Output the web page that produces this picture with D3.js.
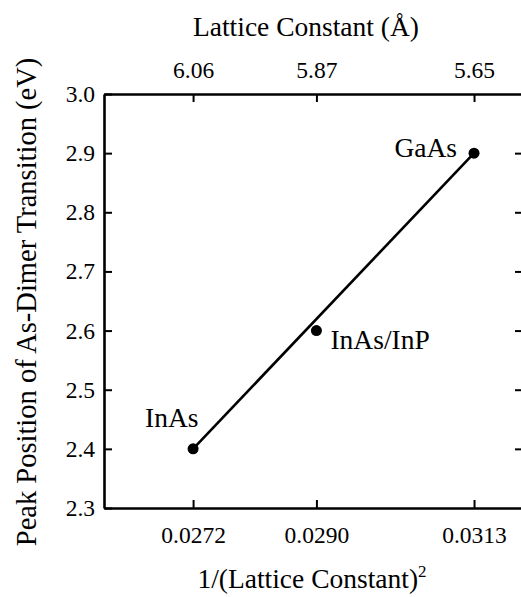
<!DOCTYPE html>
<html>
<head>
<meta charset="utf-8">
<script src="https://cdn.jsdelivr.net/npm/d3@7"></script>
<style>
  html, body { margin: 0; padding: 0; background: #fff; }
  svg { display: block; }
</style>
</head>
<body>
<svg id="chart" width="521" height="597"></svg>
<script>
// ---- data ----
const materials = ["InAs", "InAs/InP", "GaAs"];
const invLatticeSq = [0.0272, 0.0290, 0.0313];
const peakEV = [2.40, 2.60, 2.90];
const fitX = [0.0272, 0.0313];
const fitY = [2.40, 2.90];
const bottomTicks = [0.0272, 0.0290, 0.0313];
const bottomTickLabels = ["0.0272", "0.0290", "0.0313"];
const topTickLabels = ["6.06", "5.87", "5.65"];
const yTicks = [2.3, 2.4, 2.5, 2.6, 2.7, 2.8, 2.9, 3.0];
const xDomain = [0.0259, 0.0320];
const yDomain = [2.3, 3.0];

// ---- layout ----
const FONT = "Liberation Serif";
const svg = d3.select("#chart");
const mLeft = 104, mRight = 522, mTop = 94, mBottom = 508;
const x = d3.scaleLinear().domain(xDomain).range([mLeft, mRight]);
const y = d3.scaleLinear().domain(yDomain).range([mBottom, mTop]);

const tickFont = 23.5, titleFont = 27.5, labelFont = 27.5;

function styleAxis(g) {
  g.attr("font-family", null);
  g.select(".domain").attr("stroke", "#000").attr("stroke-width", 2.6);
  g.selectAll(".tick line").attr("stroke", "#000").attr("stroke-width", 2);
  g.selectAll(".tick text").attr("font-size", tickFont)
    .style("font-family", FONT).attr("fill", "#000");
}

// bottom axis
const gB = svg.append("g").attr("transform", `translate(0,${mBottom})`)
  .call(d3.axisBottom(x).tickValues(bottomTicks)
    .tickFormat((d, i) => bottomTickLabels[i]).tickSizeInner(-8).tickSizeOuter(0));
styleAxis(gB);
gB.selectAll(".tick text").attr("y", 35).attr("dy", null);

// top axis
const gT = svg.append("g").attr("transform", `translate(0,${mTop})`)
  .call(d3.axisTop(x).tickValues(bottomTicks)
    .tickFormat((d, i) => topTickLabels[i]).tickSizeInner(-8).tickSizeOuter(0).tickPadding(16));
styleAxis(gT);

// left axis
const gL = svg.append("g").attr("transform", `translate(${mLeft},0)`)
  .call(d3.axisLeft(y).tickValues(yTicks).tickFormat(d3.format(".1f"))
    .tickSizeInner(-8).tickSizeOuter(0).tickPadding(9));
styleAxis(gL);

// right axis (ticks only)
const gR = svg.append("g").attr("transform", `translate(${mRight},0)`)
  .call(d3.axisRight(y).tickValues(yTicks).tickFormat("")
    .tickSizeInner(-7).tickSizeOuter(0));
styleAxis(gR);
gR.selectAll(".tick").filter(d => d === 3.0 || d === 2.3).remove();

// fit line
svg.append("path")
  .datum(fitX.map((v, i) => [v, fitY[i]]))
  .attr("d", d3.line().x(d => x(d[0])).y(d => y(d[1])))
  .attr("fill", "none").attr("stroke", "#000").attr("stroke-width", 2.6);

// points
const pts = materials.map((m, i) => ({ m, xv: invLatticeSq[i], yv: peakEV[i] }));
svg.selectAll("circle.pt").data(pts).enter().append("circle")
  .attr("class", "pt")
  .attr("cx", d => x(d.xv)).attr("cy", d => y(d.yv)).attr("r", 5.5).attr("fill", "#000");

// point labels
const labelOffsets = { "InAs": [-48, -22, "start"], "InAs/InP": [14, 18, "start"], "GaAs": [-17, 4, "end"] };
svg.selectAll("text.lab").data(pts).enter().append("text")
  .attr("class", "lab")
  .attr("x", d => x(d.xv) + labelOffsets[d.m][0])
  .attr("y", d => y(d.yv) + labelOffsets[d.m][1])
  .attr("text-anchor", d => labelOffsets[d.m][2])
  .attr("font-size", labelFont)
  .style("font-family", FONT)
  .text(d => d.m);

// titles
svg.append("text").attr("x", 306).attr("y", 36).attr("text-anchor", "middle")
  .attr("font-size", titleFont).style("font-family", FONT).text("Lattice Constant (Å)");

const bt = svg.append("text").attr("x", 312).attr("y", 588).attr("text-anchor", "middle")
  .attr("font-size", titleFont).style("font-family", FONT);
bt.append("tspan").text("1/(Lattice Constant)");
bt.append("tspan").attr("dy", -11).attr("font-size", 17).text("2");

svg.append("text")
  .attr("transform", "translate(36,302) rotate(-90)")
  .attr("text-anchor", "middle")
  .attr("font-size", 28.5)
  .style("font-family", FONT)
  .text("Peak Position of As-Dimer Transition (eV)");
</script>
</body>
</html>
